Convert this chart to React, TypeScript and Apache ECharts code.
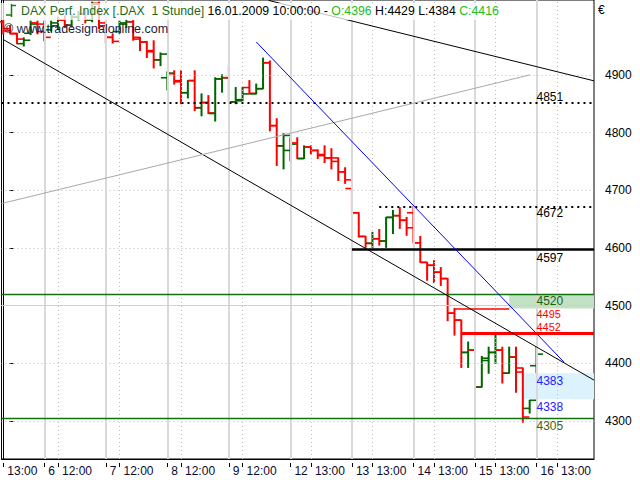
import React, { useEffect, useRef } from 'react';
import * as echarts from 'echarts';

// ---- DATA ----
// hourly OHLC bars, 05.01.2009 13:00 ... 16.01.2009 10:00 (index = bar slot)
const openP = [4992, 4980, 4971, 4954, 4972, 4990, 4988, 4978, 4985, 4995, 4986, 5000, 5006, 4995, 5024, 4990, 4965, 4975, 4988, 4992, 4962, 4957, 4942, 4926, 4895, 4902, 4890, 4869, 4890, 4843, 4852, 4833, 4893, 4895, 4853, 4857, 4878, 4867, 4876, 4921, 4812, 4777, 4769, 4782, 4755, 4775, 4769, 4762, 4756, 4756, 4732, 4703, 4661, 4620, 4608, 4616, 4612, 4653, 4656, 4648, 4661, 4609, 4575, 4570, 4558, 4547, 4487, 4475, 4419, 4423, 4359, 4405, 4419, 4423, 4383, 4411, 4392, 4322, 4396];
const highP = [4995, 4985, 4972, 4964, 4993, 4993, 4993, 4993, 5000, 5002, 5004, 5010, 5012, 5026, 5026, 4993, 4971, 4993, 4995, 4994, 4965, 4958, 4959, 4938, 4905, 4907, 4907, 4890, 4907, 4867, 4864, 4895, 4900, 4916, 4878, 4878, 4890, 4884, 4929, 4924, 4824, 4798, 4791, 4791, 4777, 4777, 4770, 4777, 4772, 4756, 4739, 4703, 4661, 4620, 4627, 4632, 4653, 4665, 4670, 4653, 4672, 4620, 4575, 4578, 4566, 4547, 4495, 4475, 4437, 4452, 4412, 4428, 4452, 4428, 4428, 4428, 4392, 4336, 4429];
const lowP = [4971, 4971, 4954, 4950, 4970, 4971, 4959, 4976, 4980, 4982, 4983, 4995, 4990, 4992, 4980, 4955, 4955, 4972, 4982, 4960, 4942, 4930, 4912, 4916, 4874, 4884, 4850, 4860, 4838, 4829, 4833, 4820, 4870, 4852, 4850, 4855, 4867, 4867, 4876, 4803, 4743, 4737, 4751, 4755, 4755, 4763, 4755, 4748, 4737, 4717, 4712, 4660, 4619, 4601, 4601, 4605, 4601, 4625, 4634, 4622, 4609, 4575, 4544, 4540, 4535, 4474, 4449, 4393, 4393, 4333, 4359, 4383, 4400, 4366, 4383, 4350, 4298, 4314, 4384];
const closeP = [4976, 4972, 4962, 4960, 4988, 4975, 4965, 4990, 4995, 4986, 5000, 5006, 4995, 5022, 4985, 4965, 4958, 4990, 4992, 4965, 4957, 4940, 4926, 4936, 4903, 4888, 4869, 4890, 4843, 4852, 4834, 4893, 4895, 4853, 4855, 4867, 4868, 4876, 4921, 4812, 4777, 4795, 4780, 4755, 4775, 4769, 4760, 4756, 4750, 4732, 4718, 4661, 4620, 4608, 4616, 4612, 4653, 4656, 4648, 4635, 4609, 4575, 4570, 4558, 4547, 4487, 4475, 4419, 4423, 4359, 4409, 4419, 4423, 4383, 4411, 4385, 4307, 4336, 4416];

// x-axis ticks (bar slot index) and their labels
const xTickIdx = [0, 6, 8, 15, 17, 24, 26, 33, 35, 42, 45, 51, 54, 60, 63, 69, 72, 78, 81];
const xTickLabels = ['13:00', '6', '12:00', '7', '12:00', '8', '12:00', '9', '12:00', '12', '13:00', '13', '13:00', '14', '13:00', '15', '13:00', '16', '13:00'];
const dayStartIdx = [6, 15, 24, 33, 42, 51, 60, 69, 78];
const yTicks = [4300, 4400, 4500, 4600, 4700, 4800, 4900];

// horizontal levels: value, start slot (null = full width), end slot (null = right edge)
const levelValues = [4851, 4672, 4597, 4520, 4500, 4495, 4452, 4305];
const levelStart = [null, 55, 51, null, null, 66, 67, null];
const levelEnd = [null, null, null, null, null, 74, null, null];

// zones
const zoneLow = [4495, 4338];
const zoneHigh = [4520, 4383];
const zoneStart = [74, 76];

// level labels
const labelValues = [4851, 4672, 4597, 4520, 4495, 4452, 4383, 4338, 4305];
const labelSlot = 78;

// trend lines [slot, value]
const trendFrom = [[0.1, 4960.5], [-0.26, 4677], [38.8, 5029], [37, 4957]];
const trendTo = [[86.41, 4371], [77.05, 4900], [86.41, 4889.6], [82.03, 4402]];

const headerDate = '16.01.2009 10:00:00';

// ---- STYLES ----
const XMIN = -0.26;
const XMAX = 86.41;
const YMIN = 4234.3;
const YMAX = 5029.7;
const FONT = 'Liberation Sans, Arial, sans-serif';
const RED = '#ff0000';
const GREEN = '#006600';

const levelStyles = [
  { color: '#000', width: 2, type: [2, 4] },
  { color: '#000', width: 2, type: [2, 4] },
  { color: '#000', width: 2.6, type: 'solid' },
  { color: '#127212', width: 1.4, type: 'solid' },
  { color: '#cfcfcf', width: 1, type: 'solid' },
  { color: RED, width: 1.5, type: 'solid' },
  { color: RED, width: 3, type: 'solid' },
  { color: '#127212', width: 1.4, type: 'solid' },
];
const zoneColors = ['#c3e1c3', '#dcf2fc'];
const labelColors = ['#000000', '#000000', '#000000', '#1f5f10', '#ff0000', '#ff0000', '#2222ff', '#2222ff', '#3f6210'];
const labelDy = [-6, 7, 8, 7, 5.2, -6.4, 8, 8, 8];
const labelSize = [12, 12, 12, 12, 11, 11, 12, 12, 12];
const trendColors = ['#000000', '#a8a8a8', '#000000', '#0000ff'];

export default function App() {
  const ref = useRef<HTMLDivElement>(null);

  useEffect(() => {
    if (!ref.current) return;
    const chart = echarts.init(ref.current, null, { renderer: 'svg' });

    const bars = openP.map((o, i) => [i, o, highP[i], lowP[i], closeP[i]]);
    const labelMap: Record<number, string> = {};
    xTickIdx.forEach((v, i) => (labelMap[v] = xTickLabels[i]));
    const noonIdx = xTickIdx.filter((v) => v > 0 && dayStartIdx.indexOf(v) < 0);

    const gridLines: any[] = [
      ...yTicks.map((v) => ({ yAxis: v, lineStyle: { color: '#bcbcbc', type: [1, 3], width: 1 } })),
      ...dayStartIdx.map((i) => ({ xAxis: i, lineStyle: { color: '#d9d9d9', type: 'solid', width: 2 } })),
      ...noonIdx.map((i) => ({ xAxis: i, lineStyle: { color: '#bcbcbc', type: [1, 3], width: 1 } })),
    ];

    const levelLines: any[] = levelValues.map((v, i) => {
      const st = levelStyles[i];
      if (levelStart[i] === null) {
        return { yAxis: v, lineStyle: st };
      }
      return [
        { coord: [levelStart[i], v], lineStyle: st },
        { coord: [levelEnd[i] === null ? XMAX : levelEnd[i], v] },
      ];
    });

    const zones: any[] = zoneLow.map((lo, i) => [
      { coord: [zoneStart[i], zoneHigh[i]], itemStyle: { color: zoneColors[i] } },
      { coord: [XMAX, lo] },
    ]);

    const trends: any[] = trendFrom.map((f, i) => [
      { coord: f, lineStyle: { color: trendColors[i], width: 1, type: 'solid' } },
      { coord: trendTo[i] },
    ]);

    const labelData = labelValues.map((v, i) => ({
      value: [labelSlot, v],
      label: {
        show: true,
        position: [0.5, labelDy[i] + 0.5],
        align: 'left',
        verticalAlign: 'middle',
        color: labelColors[i],
        opacity: 1,
        fontSize: labelSize[i],
        fontFamily: FONT,
        formatter: String(v),
      },
    }));

    const last = openP.length - 1;
    const headerText =
      `{g|DAX Perf. Index [.DAX  1 Stunde]} {k|${headerDate} -} {l|O:${openP[last]}} ` +
      `{k|H:${highP[last]} L:${lowP[last]}} {l|C:${closeP[last]}}`;

    chart.setOption({
      animation: false,
      grid: {
        left: 1.5,
        right: 46,
        top: -1,
        bottom: 21,
        show: true,
        borderColor: '#000',
        borderWidth: 1,
        backgroundColor: 'transparent',
      },
      xAxis: {
        type: 'value',
        min: XMIN,
        max: XMAX,
        position: 'bottom',
        axisLine: { show: true, onZero: false, lineStyle: { color: '#000', width: 1 } },
        axisTick: {
          show: true,
          customValues: xTickIdx,
          length: 8,
          lineStyle: { color: '#000', width: 1, type: [0, 4, 4, 10] },
        },
        axisLabel: {
          show: true,
          customValues: xTickIdx,
          formatter: (v: number) => labelMap[Math.round(v)] ?? '',
          align: 'left',
          padding: [0, 0, 0, 4],
          margin: 6,
          color: '#0a0a30',
          fontSize: 12,
          fontFamily: FONT,
        },
        splitLine: { show: false },
      },
      yAxis: {
        type: 'value',
        position: 'right',
        min: YMIN,
        max: YMAX,
        axisLine: { show: true, lineStyle: { color: '#000', width: 1 } },
        axisTick: {
          show: true,
          customValues: yTicks,
          length: 10,
          lineStyle: { color: '#000', width: 1, type: [0, 6, 4, 10] },
        },
        axisLabel: {
          show: true,
          customValues: yTicks,
          formatter: (v: number) => String(Math.round(v)),
          margin: 11,
          color: '#000',
          fontSize: 12,
          fontFamily: FONT,
        },
        splitLine: { show: false },
      },
      series: [
        {
          name: 'grid',
          type: 'line',
          data: [],
          z: 1,
          silent: true,
          markLine: {
            silent: true,
            symbol: ['none', 'none'],
            label: { show: false },
            emphasis: { disabled: true },
            data: gridLines,
          },
        },
        {
          name: 'zones',
          type: 'line',
          data: [],
          z: 2,
          silent: true,
          markArea: {
            silent: true,
            label: { show: false },
            emphasis: { disabled: true },
            data: zones,
          },
        },
        {
          name: 'levels',
          type: 'line',
          data: [],
          z: 3,
          silent: true,
          markLine: {
            silent: true,
            symbol: ['none', 'none'],
            label: { show: false },
            emphasis: { disabled: true },
            data: levelLines,
          },
        },
        {
          name: 'DAX',
          type: 'custom',
          z: 4,
          silent: true,
          data: bars,
          encode: { x: 0, y: [1, 2, 3, 4] },
          renderItem: (params: any, api: any) => {
            const x = api.value(0);
            const o = api.value(1);
            const h = api.value(2);
            const l = api.value(3);
            const c = api.value(4);
            const pH = api.coord([x, h]);
            const pL = api.coord([x, l]);
            const pO = api.coord([x, o]);
            const pC = api.coord([x, c]);
            const w = api.size([1, 0])[0] * 0.95;
            const color = c >= o ? GREEN : RED;
            return {
              type: 'group',
              children: [
                {
                  type: 'line',
                  shape: { x1: pH[0], y1: pH[1] - 0.5, x2: pL[0], y2: pL[1] + 0.5 },
                  style: { stroke: color, lineWidth: 2 },
                },
                {
                  type: 'line',
                  shape: { x1: pO[0] - w, y1: pO[1], x2: pO[0], y2: pO[1] },
                  style: { stroke: color, lineWidth: 1.6 },
                },
                {
                  type: 'line',
                  shape: { x1: pC[0], y1: pC[1], x2: pC[0] + w, y2: pC[1] },
                  style: { stroke: color, lineWidth: 1.6 },
                },
              ],
            };
          },
        },
        {
          name: 'trends',
          type: 'line',
          data: [],
          z: 5,
          silent: true,
          markLine: {
            silent: true,
            symbol: ['none', 'none'],
            label: { show: false },
            emphasis: { disabled: true },
            data: trends,
          },
        },
        {
          name: 'labels',
          type: 'scatter',
          z: 6,
          silent: true,
          symbolSize: 1,
          itemStyle: { color: 'rgba(0,0,0,0)', opacity: 1 },
          emphasis: { disabled: true },
          data: labelData,
        },
      ],
      graphic: [
        {
          type: 'rect',
          z: 100,
          silent: true,
          shape: { x: 0, y: 3, width: 488, height: 17 },
          style: { fill: 'rgba(255,255,255,0.75)' },
        },
        {
          type: 'line',
          z: 101,
          silent: true,
          shape: { x1: 11.5, y1: 4, x2: 11.5, y2: 17 },
          style: { stroke: '#1a7a1a', lineWidth: 1.5 },
        },
        {
          type: 'line',
          z: 101,
          silent: true,
          shape: { x1: 6, y1: 15, x2: 11.5, y2: 15 },
          style: { stroke: '#1a7a1a', lineWidth: 1.5 },
        },
        {
          type: 'line',
          z: 101,
          silent: true,
          shape: { x1: 11.5, y1: 5.5, x2: 16, y2: 5.5 },
          style: { stroke: '#1a7a1a', lineWidth: 1.5 },
        },
        {
          type: 'text',
          z: 101,
          silent: true,
          x: 21,
          y: 11,
          style: {
            text: headerText,
            font: `12.3px ${FONT}`,
            fill: '#000',
            verticalAlign: 'middle',
            rich: {
              g: { fill: '#1b6b1b', font: `12.3px ${FONT}` },
              k: { fill: '#000000', font: `12.3px ${FONT}` },
              l: { fill: '#22c022', font: `12.3px ${FONT}` },
            },
          },
        },
        {
          type: 'text',
          z: 101,
          silent: true,
          x: 4,
          y: 29,
          style: {
            text: '© www.tradesignalonline.com',
            font: `12.5px ${FONT}`,
            fill: '#1c1c3a',
            verticalAlign: 'middle',
          },
        },
        {
          type: 'text',
          z: 101,
          silent: true,
          x: 598,
          y: 10,
          style: {
            text: '€',
            font: `12px ${FONT}`,
            fill: '#000',
            verticalAlign: 'middle',
          },
        },
      ],
    });

    return () => chart.dispose();
  }, []);

  return (
    <div
      ref={ref}
      style={{ position: 'absolute', left: 0, top: 0, width: 640, height: 480, background: '#fff' }}
    />
  );
}
